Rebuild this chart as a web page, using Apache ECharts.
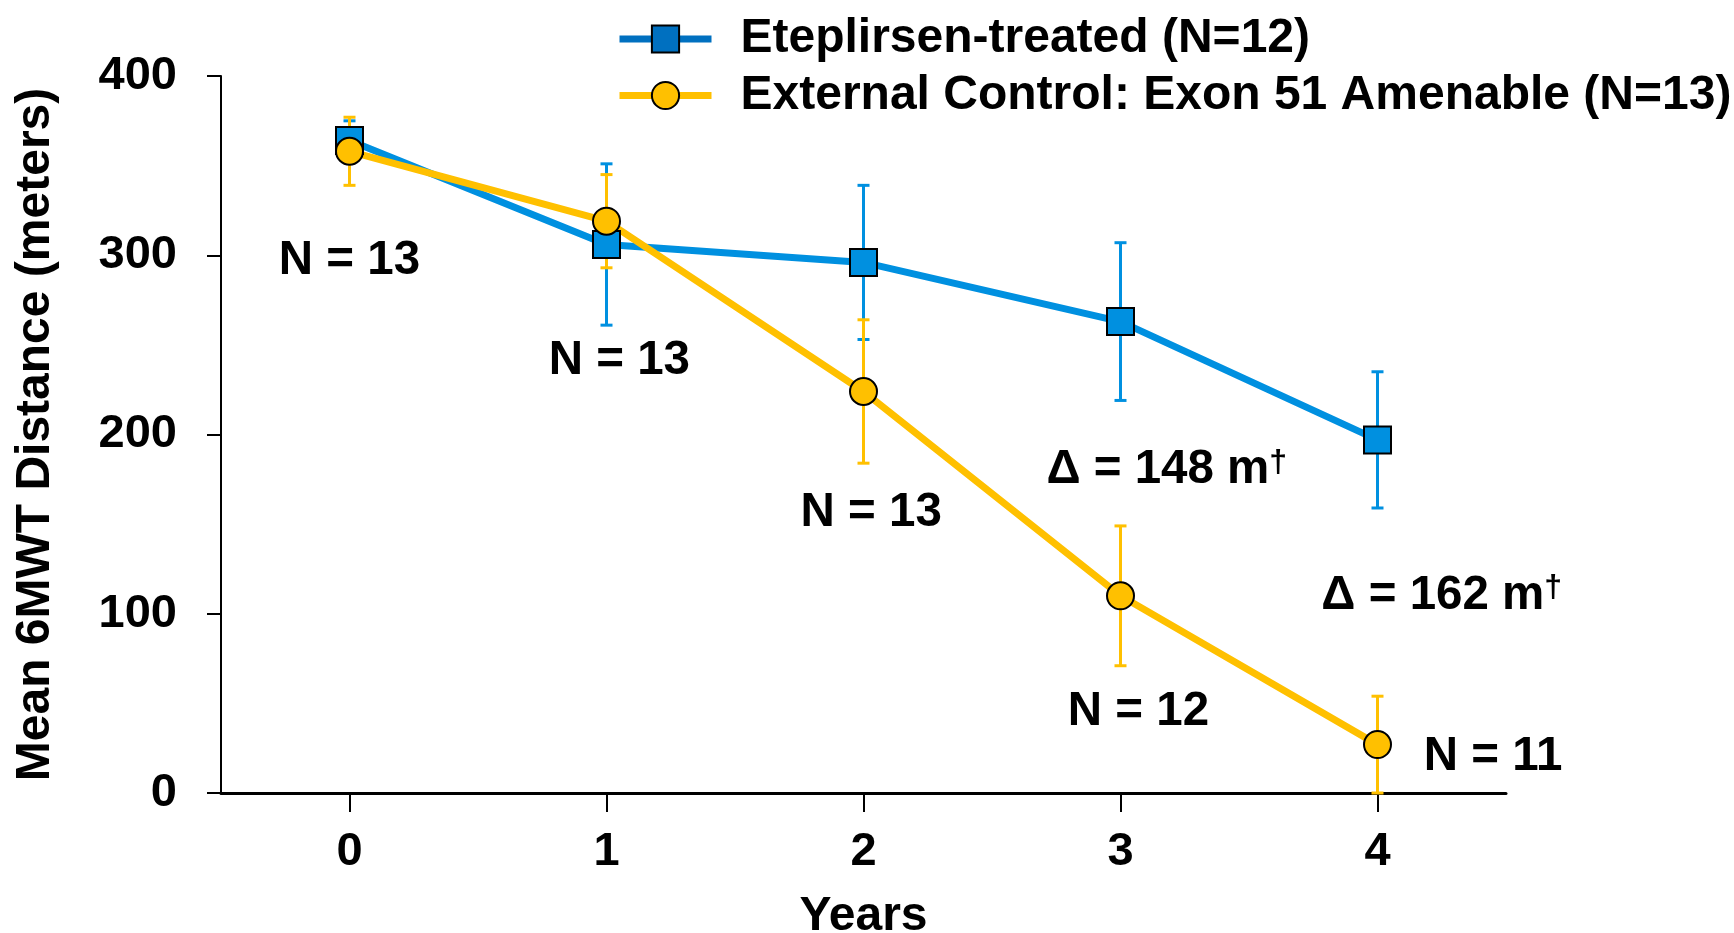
<!DOCTYPE html>
<html>
<head>
<meta charset="utf-8">
<script src="https://cdn.jsdelivr.net/npm/echarts@6/dist/echarts.min.js"></script>
<style>
html,body{margin:0;padding:0;background:#fff;}
#chart{width:1734px;height:933px;}
</style>
</head>
<body>
<div id="chart"></div>
<script>
// ---- data ----
var years = ['0', '1', '2', '3', '4'];
var seriesNames = ['Eteplirsen-treated (N=12)', 'External Control: Exon 51 Amenable (N=13)'];
var eteplirsenMean = [364, 306, 296, 263, 197];
var eteplirsenErr  = [11, 45, 43, 44, 38];
var controlMean    = [358, 319, 224, 110, 27];
var controlErr     = [19, 26, 40, 39, 27];
var yTicks = [0, 100, 200, 300, 400];
// annotation texts with [x position in years, y value]
var annoText = ['N = 13', 'N = 13', 'N = 13', 'Δ = 148 m', 'N = 12', 'Δ = 162 m', 'N = 11'];
var annoDagger = [false, false, false, true, false, true, false];
var annoX = [0.00, 1.05, 2.03, 3.18, 3.07, 4.25, 4.45];
var annoY = [297, 241, 156, 180, 45, 110, 20];

var FONT = '"Liberation Sans", Arial, sans-serif';
var BLUE = '#0090E0', BLUE_LEG = '#0070C0', YELLOW = '#FFC000';

function errData(mean, err) {
  return mean.map(function (m, i) { return [i, m - err[i], m + err[i]]; });
}
function errSeries(name, mean, err, color) {
  return {
    type: 'custom', name: name, xAxisIndex: 0, yAxisIndex: 0,
    data: errData(mean, err), silent: true,
    renderItem: function (params, api) {
      var lo = api.coord([api.value(0), api.value(1)]);
      var hi = api.coord([api.value(0), api.value(2)]);
      var hw = 6;
      var st = { stroke: color, lineWidth: 3 };
      return {
        type: 'group',
        children: [
          { type: 'line', shape: { x1: lo[0], y1: lo[1], x2: hi[0], y2: hi[1] }, style: st },
          { type: 'line', shape: { x1: lo[0] - hw, y1: lo[1], x2: lo[0] + hw, y2: lo[1] }, style: st },
          { type: 'line', shape: { x1: hi[0] - hw, y1: hi[1], x2: hi[0] + hw, y2: hi[1] }, style: st }
        ]
      };
    }
  };
}

var annoData = annoText.map(function (t, i) {
  return { value: [annoX[i], annoY[i]], label: { formatter: annoDagger[i] ? '{t|' + t + '}{s|†}' : '{t|' + t + '}' } };
});

var chart = echarts.init(document.getElementById('chart'));
chart.setOption({
  animation: false,
  backgroundColor: '#ffffff',
  textStyle: { fontFamily: FONT },
  grid: { left: 221, right: 228, top: 76, bottom: 140, containLabel: false, outerBoundsMode: 'none' },
  legend: {
    orient: 'vertical', left: 611, top: 10,
    itemWidth: 92, itemHeight: 34, itemGap: 8.5,
    textStyle: { fontFamily: FONT, fontSize: 48, fontWeight: 'bold', color: '#000', lineHeight: 48, padding: [0, 0, 0, 24] },
    data: [
      { name: seriesNames[0], itemStyle: { color: BLUE_LEG, borderColor: '#000', borderWidth: 2 }, lineStyle: { color: BLUE_LEG, width: 7 } },
      { name: seriesNames[1], itemStyle: { color: YELLOW, borderColor: '#000', borderWidth: 2 }, lineStyle: { color: YELLOW, width: 7 } }
    ]
  },
  xAxis: [{
    type: 'category', data: years, boundaryGap: true,
    name: 'Years', nameLocation: 'middle', nameGap: 100,
    nameTextStyle: { fontFamily: FONT, fontSize: 48, fontWeight: 'bold', color: '#000' },
    axisLine: { show: true, lineStyle: { color: '#000', width: 3 } },
    axisTick: { show: true, alignWithLabel: true, length: 19, lineStyle: { color: '#000', width: 2 } },
    axisLabel: { margin: 36, fontFamily: FONT, fontSize: 47, fontWeight: 'bold', color: '#000' },
    splitLine: { show: false }
  }, {
    type: 'value', min: -0.5, max: 4.5, show: false
  }],
  yAxis: {
    type: 'value', min: yTicks[0], max: yTicks[yTicks.length - 1], interval: 100,
    name: 'Mean 6MWT Distance (meters)', nameLocation: 'middle', nameGap: 161,
    nameTextStyle: { fontFamily: FONT, fontSize: 48, fontWeight: 'bold', color: '#000' },
    axisLine: { show: true, onZero: false, lineStyle: { color: '#000', width: 2 } },
    axisTick: { show: true, length: 14, lineStyle: { color: '#000', width: 2 } },
    axisLabel: { margin: 44, fontFamily: FONT, fontSize: 47, fontWeight: 'bold', color: '#000' },
    splitLine: { show: false }
  },
  series: [
    errSeries('errBlue', eteplirsenMean, eteplirsenErr, BLUE),
    errSeries('errYellow', controlMean, controlErr, YELLOW),
    {
      type: 'line', name: seriesNames[0], data: eteplirsenMean,
      symbol: 'rect', symbolSize: 27, showSymbol: true,
      lineStyle: { color: BLUE, width: 7 },
      itemStyle: { color: BLUE, borderColor: '#000', borderWidth: 2 },
      emphasis: { disabled: true }
    },
    {
      type: 'line', name: seriesNames[1], data: controlMean,
      symbol: 'circle', symbolSize: 27, showSymbol: true,
      lineStyle: { color: YELLOW, width: 7 },
      itemStyle: { color: YELLOW, borderColor: '#000', borderWidth: 2 },
      emphasis: { disabled: true }
    },
    {
      type: 'scatter', name: 'annotations', xAxisIndex: 1, yAxisIndex: 0,
      symbolSize: 0, silent: true, data: annoData,
      itemStyle: { opacity: 1 },
      label: {
        show: true, position: 'inside', color: '#000', opacity: 1,
        rich: {
          t: { fontFamily: FONT, fontSize: 47.5, fontWeight: 'bold', color: '#000', lineHeight: 47 },
          s: { fontFamily: FONT, fontSize: 32, fontWeight: 'bold', color: '#000', lineHeight: 32, verticalAlign: 'top' }
        }
      }
    }
  ]
});
</script>
</body>
</html>
